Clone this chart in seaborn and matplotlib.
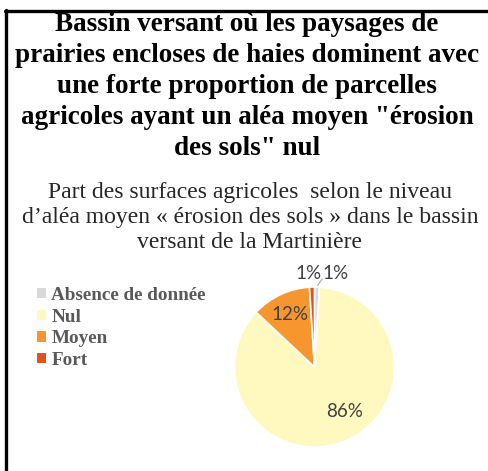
import matplotlib
matplotlib.use("Agg")
import matplotlib.pyplot as plt
from matplotlib.lines import Line2D
from matplotlib.patches import Patch
import seaborn as sns

# Share of agricultural land by mean "soil erosion" hazard level
categories = ["Absence de donnée", "Nul", "Moyen", "Fort"]
shares = [1, 86, 12, 1]
colors = ["#d9d9d9", "#fff9bf", "#f7962f", "#e0531e"]

title_lines = [
    "Bassin versant où les paysages de",
    "prairies encloses de haies dominent avec",
    "une forte proportion de parcelles",
    "agricoles ayant un aléa moyen \"érosion",
    "des sols\" nul",
]
subtitle_lines = [
    "Part des surfaces agricoles  selon le niveau",
    "d\u2019aléa moyen « érosion des sols » dans le bassin",
    "versant de la Martinière",
]

sns.set_theme(style="white")
palette = sns.color_palette(colors)

W, H = 489, 471
fig = plt.figure(figsize=(W / 100, H / 100), dpi=100)
fig.patch.set_facecolor("white")


def fx(px):
    return px / W


def fy(py):
    return 1 - py / H


# frame lines (left and top)
fig.add_artist(Line2D([fx(6), fx(6)], [fy(10), fy(471)], color="black", lw=2.4))
fig.add_artist(Line2D([fx(5), fx(489)], [fy(11), fy(11)], color="black", lw=2.4))

serif = ["Liberation Serif", "DejaVu Serif"]
title_base = [31, 62, 93, 124, 155]
for line, y in zip(title_lines, title_base):
    fig.text(fx(247), fy(y), line, ha="center", va="baseline", fontsize=19.5,
             fontweight="bold", family=serif, color="black")

sub_base = [198, 223, 248]
for line, y in zip(subtitle_lines, sub_base):
    fig.text(fx(250), fy(y), line, ha="center", va="baseline", fontsize=17,
             family=serif, color="#262626")

# pie
cx, cy, r = 314.5, 367, 80
ax = fig.add_axes([fx(cx - r), fy(cy + r), (2 * r) / W, (2 * r) / H])
wedges, _ = ax.pie(shares, colors=palette, startangle=90, counterclock=False,
                   radius=1, wedgeprops=dict(edgecolor="white", linewidth=1.2))
ax.set_xlim(-1, 1)
ax.set_ylim(-1, 1)
ax.set_aspect("equal")
ax.axis("off")

label_font = dict(family=["Lato", "DejaVu Sans"], fontsize=13.5, color="#404040",
                  ha="center", va="center")
label_pos = [(0.26, 1.17), (0.38, -0.56), (-0.31, 0.65), (-0.08, 1.17)]
for val, (x, y) in zip(shares, label_pos):
    ax.text(x, y, f"{val}%", clip_on=False, **label_font)
ax.plot([0.04, 0.095], [1.02, 1.10], color="#a6a6a6", lw=0.8, clip_on=False)

# legend
handles = [Patch(facecolor=c, edgecolor="none") for c in palette]
leg = fig.legend(handles, categories, loc="upper left",
                 bbox_to_anchor=(fx(37), fy(287)), frameon=False,
                 prop=dict(family=serif, weight="bold", size=13.8),
                 handlelength=0.45, handleheight=0.45, handletextpad=0.3,
                 labelspacing=0.24, borderpad=0, borderaxespad=0)
for t in leg.get_texts():
    t.set_color("#595959")

fig.savefig("out.png", dpi=100, facecolor="white")
